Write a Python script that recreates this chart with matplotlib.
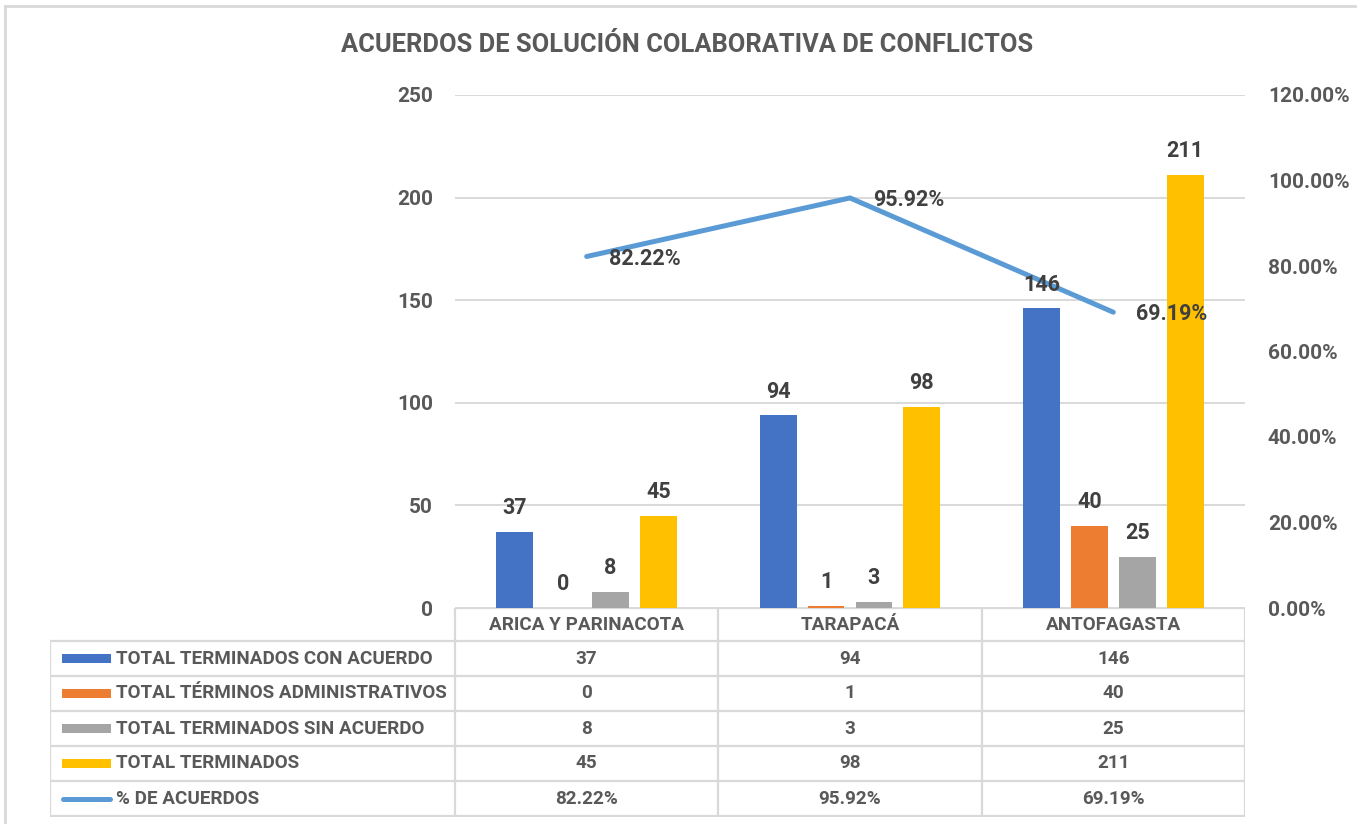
import numpy as np
import matplotlib
matplotlib.use("Agg")
import matplotlib.pyplot as plt
from matplotlib.lines import Line2D
from matplotlib.patches import Rectangle

# datos por región
regiones = ["ARICA Y PARINACOTA", "TARAPACÁ", "ANTOFAGASTA"]
con_acuerdo = [37, 94, 146]
administrativos = [0, 1, 40]
sin_acuerdo = [8, 3, 25]
terminados = [45, 98, 211]
pct_acuerdos = [0.8222, 0.9592, 0.6919]

series = [("TOTAL TERMINADOS CON ACUERDO", con_acuerdo, "#4472c4"),
          ("TOTAL TÉRMINOS ADMINISTRATIVOS", administrativos, "#ed7d31"),
          ("TOTAL TERMINADOS SIN ACUERDO", sin_acuerdo, "#a5a5a5"),
          ("TOTAL TERMINADOS", terminados, "#ffc000")]
LINE_C = "#5b9bd5"; GRID = "#d9d9d9"; TXT = "#595959"; LBL = "#404040"

plt.rcParams["font.family"] = ["Roboto", "DejaVu Sans"]
plt.rcParams["font.weight"] = "bold"

W, H = 1357, 824
fx = lambda px: px / W
fy = lambda py: 1 - py / H
fig = plt.figure(figsize=(W / 100, H / 100), dpi=100)

ax = fig.add_axes([fx(455), fy(608), fx(1245) - fx(455), fy(95) - fy(608)])
x = np.arange(len(regiones))
bw, step = 0.14, 0.182
for i, (name, vals, c) in enumerate(series):
    ax.bar(x + (i - 1.5) * step, vals, bw, color=c, zorder=2)
ax.set_xlim(-0.5, 2.5); ax.set_ylim(0, 250)
ax.set_yticks(range(0, 251, 50))
ax.yaxis.grid(True, color=GRID, lw=1.4, zorder=0)
ax.set_xticks([])
for s in ax.spines.values(): s.set_visible(False)
ax.tick_params(axis="y", length=0, pad=16, labelsize=15, labelcolor=TXT)

ax2 = ax.twinx()
ax2.set_ylim(0, 1.2)
ax2.set_yticks(np.arange(0, 1.21, 0.2))
ax2.set_yticklabels([f"{v:.2%}" for v in np.arange(0, 1.21, 0.2)])
ax2.tick_params(axis="y", length=0, pad=16.5, labelsize=15, labelcolor=TXT)
for s in ax2.spines.values(): s.set_visible(False)
ax2.plot(x, pct_acuerdos, color=LINE_C, lw=3.6, solid_capstyle="round", zorder=3)

# etiquetas de datos
for i, (name, vals, c) in enumerate(series):
    for xi, v in zip(x, vals):
        ax2.annotate(f"{v}", (xi + (i - 1.5) * step, v), xycoords=ax.transData,
                     xytext=(0, 17), textcoords="offset points", ha="center", va="center",
                     fontsize=15.5, color=LBL, zorder=5)
for xi, p in zip(x, pct_acuerdos):
    ax2.annotate(f"{p:.2%}", (xi, p), xytext=(42, -1.5), textcoords="offset points",
                 ha="center", va="center", fontsize=15.5, color=LBL, zorder=5)

# tabla de datos
tax = fig.add_axes([fx(50), fy(817), fx(1245) - fx(50), fy(608) - fy(817)])
upx = 790 / 3.0
x0 = -0.5 - 405 / upx
tax.set_xlim(x0, 2.5); tax.set_ylim(209, 0); tax.axis("off")
hh, rh = 33, 35
rows = [(n, v, c) for n, v, c in series] + [("% DE ACUERDOS", [f"{p:.2%}" for p in pct_acuerdos], None)]
tax.plot([-0.5, 2.5], [0, 0], color=GRID, lw=1.6)
for k in range(len(rows) + 1):
    yy = hh + k * rh
    tax.plot([x0, 2.5], [yy, yy], color=GRID, lw=1.6)
for xv in [-0.5, 0.5, 1.5, 2.5]:
    tax.plot([xv, xv], [0, hh + len(rows) * rh], color=GRID, lw=1.6)
tax.plot([x0, x0], [hh, hh + len(rows) * rh], color=GRID, lw=1.6)
for xi, r in zip(x, regiones):
    tax.text(xi, hh / 2 + 1, r, ha="center", va="center", fontsize=13.6, color=TXT)
for k, (name, vals, c) in enumerate(rows):
    yc = hh + k * rh + rh / 2
    if c is not None:
        tax.add_patch(Rectangle((x0 + 12 / upx, yc - 4.5), 49 / upx, 9, color=c, lw=0))
    else:
        tax.plot([x0 + 13 / upx, x0 + 60 / upx], [yc, yc], color=LINE_C, lw=3.6,
                 solid_capstyle="round")
    tax.text(x0 + 66 / upx, yc, name, ha="left", va="center", fontsize=13.6, color=TXT)
    for xi, v in zip(x, vals):
        tax.text(xi, yc, f"{v}", ha="center", va="center", fontsize=13.6, color=TXT)

fig.text(fx(687), fy(45), "ACUERDOS DE SOLUCIÓN COLABORATIVA DE CONFLICTOS",
         ha="center", va="center", fontsize=18.4, color=TXT)

# borde del gráfico
fig.add_artist(Line2D([fx(5), fx(5)], [0, fy(6)], transform=fig.transFigure, color=GRID, lw=2))
fig.add_artist(Line2D([fx(5), 1], [fy(6), fy(6)], transform=fig.transFigure, color=GRID, lw=2))

fig.savefig("out.png", dpi=100, facecolor="white")
